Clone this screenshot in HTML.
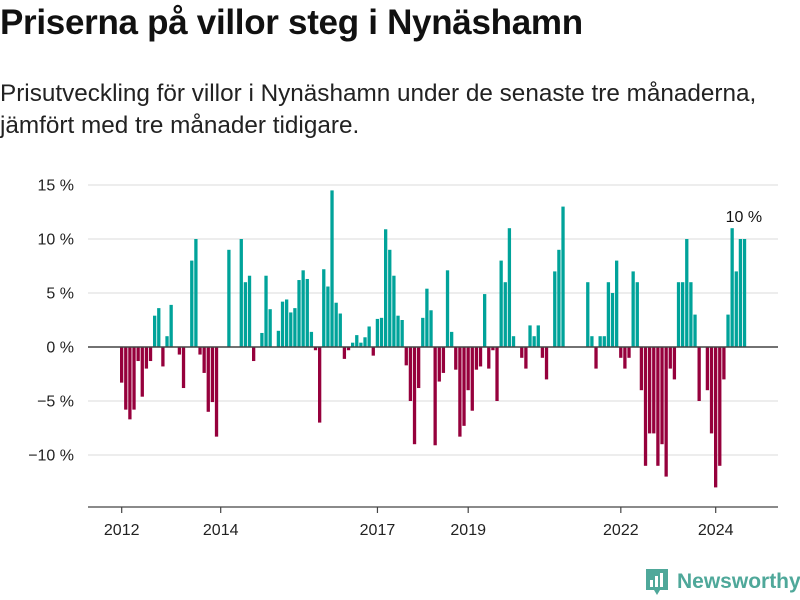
<!DOCTYPE html>
<html><head><meta charset="utf-8"><style>
body{margin:0;background:#fff;width:800px;height:600px;overflow:hidden;font-family:"Liberation Sans",sans-serif;color:#111}
#title{position:absolute;left:0;top:3px;font-size:35px;font-weight:bold;margin:0;letter-spacing:-0.3px}
#sub{position:absolute;left:0;top:78px;font-size:24.3px;line-height:32px;color:#222}
svg{position:absolute;left:0;top:0}
</style></head><body>
<h1 id="title">Priserna på villor steg i Nynäshamn</h1>
<div id="sub">Prisutveckling för villor i Nynäshamn under de senaste tre månaderna,<br>jämfört med tre månader tidigare.</div>
<svg id="chart" width="800" height="600"></svg>
<script>
const values = [-3.3,-5.8,-6.7,-5.8,-1.3,-4.6,-2.0,-1.3,2.9,3.6,-1.8,1.0,3.9,0,-0.7,-3.8,0,8,10,-0.7,-2.4,-6,-5.1,-8.3,0,0,9,0,0,10,6,6.6,-1.3,0,1.3,6.6,3.5,0,1.5,
4.2,4.4,3.2,3.6,6.2,7.1,6.3,1.4,-0.3,-7,7.2,5.6,14.5,4.1,3.1,-1.1,-0.3,0.4,1.1,0.4,0.9,1.9,-0.8,2.6,2.7,10.9,9,6.6,2.9,2.5,-1.7,-5,-9,-3.8,2.7,5.4,3.4,-9.1,-3.2,
-2.4,7.1,1.4,-2.1,-8.3,-7.3,-4,-5.9,-2.1,-1.8,4.9,-2,-0.3,-5,8,6,11,1,0,-1,-2,2,1,2,-1,-3,0,7,9,13,0,0,0,0,0,6,1,-2,1,
1,6,5,8,-1,-2,-1,7,6,-4,-11,-8,-8,-11,-9,-12,-2,-3,6,6,10,6,3,-5,0,-4,-8,-13,-11,-3,3,11,7,10,10];
const yTicks = [15,10,5,0,-5,-10];
const yTickLabels = ["15 %","10 %","5 %","0 %","\u22125 %","\u221210 %"];
const xTickMonths = [0,24,62,84,121,144];
const xTickLabels = ["2012","2014","2017","2019","2022","2024"];
const lastLabel = "10 %";

const svg = document.getElementById('chart');
const NS = 'http://www.w3.org/2000/svg';
const x = i => 120 + i*4.125;
const y = v => 347 - v*10.8;
function mk(tag, attrs){const e=document.createElementNS(NS,tag);for(const k in attrs)e.setAttribute(k,attrs[k]);svg.appendChild(e);return e;}

yTicks.forEach((t,k)=>{
  if(t!==0){const g=mk('line',{x1:88,x2:778,y1:y(t),y2:y(t),stroke:'#e2e2e2','stroke-width':1.2});
  
  }
  const tx=mk('text',{x:74,y:y(t)+5.5,'text-anchor':'end','font-size':16,fill:'#222','font-family':'Liberation Sans, sans-serif'});
  tx.textContent=yTickLabels[k];
  
  
});
values.forEach((v,i)=>{
  if(v===0)return;
  const r=mk('rect',{x:x(i),width:3.3,y:Math.min(y(v),y(0)),height:Math.abs(y(v)-y(0)),fill:v>0?'#00a39a':'#96003c'});
  
  
});
const z=mk('line',{x1:88,x2:778,y1:y(0),y2:y(0),stroke:'#444','stroke-width':1.6});


const ax=mk('line',{x1:88,x2:778,y1:507,y2:507,stroke:'#444','stroke-width':1.2});


xTickMonths.forEach((m,k)=>{
  const t=mk('line',{x1:x(m)+1.7,x2:x(m)+1.7,y1:507,y2:513,stroke:'#444','stroke-width':1.2});
  
  
  const l=mk('text',{x:x(m)+1.7,y:535,'text-anchor':'middle','font-size':16,fill:'#222','font-family':'Liberation Sans, sans-serif'});
  l.textContent=xTickLabels[k];
  
  
});
const li=values.length-1;
const ll=mk('text',{x:x(li)+1,y:y(values[li])-17,'text-anchor':'middle','font-size':16,fill:'#111','font-family':'Liberation Sans, sans-serif'});
ll.textContent=lastLabel;


</script>
<div style="position:absolute;left:645px;top:568px;display:flex;align-items:center">
<svg width="24" height="28" viewBox="0 0 24 28" style="position:static"><path d="M1 1h22v21h-8l-3 5-3-5H1z" fill="#4fa89a"/><rect x="5" y="12" width="3" height="7" fill="#fff"/><rect x="10" y="8" width="3" height="11" fill="#fff"/><rect x="15" y="5" width="3" height="14" fill="#fff"/></svg>
<span style="font-size:21px;font-weight:bold;color:#4fa89a;margin-left:8px">Newsworthy</span></div>
</body></html>
